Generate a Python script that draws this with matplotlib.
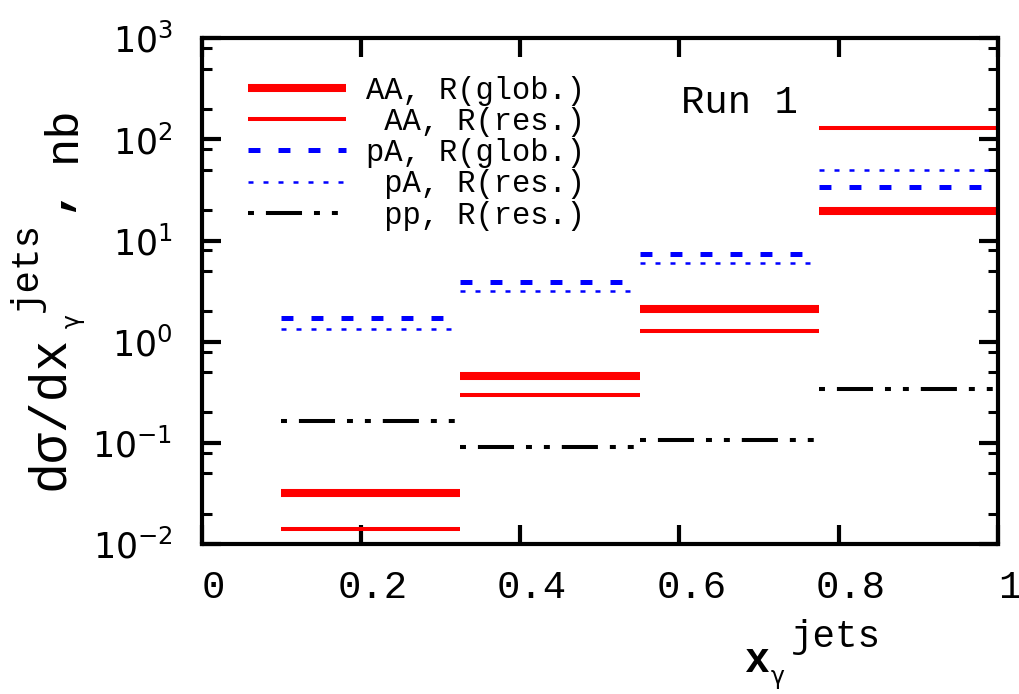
import numpy
import matplotlib as mpl
mpl.use('Agg')
import matplotlib.pyplot as plt
import matplotlib.transforms as mtrans
from matplotlib.ticker import LogLocator, NullFormatter, FixedLocator
#
#--- data (x_gamma^jets bins, cross sections in nb)
#
bin_edges  = [0.1, 0.325, 0.55, 0.775, 1.0]
aa_glob    = [0.0320, 0.461, 2.12, 19.7]
aa_res     = [0.0141, 0.299, 1.27, 130.0]
pa_glob    = [1.72, 3.90, 7.43, 33.8]
pa_res     = [1.35, 3.20, 5.97, 50.4]
pp_res     = [0.163, 0.0913, 0.1056, 0.338]

labels     = ['AA, R(glob.)', ' AA, R(res.)', 'pA, R(glob.)', ' pA, R(res.)', ' pp, R(res.)']
x_ticks    = [0, 0.2, 0.4, 0.6, 0.8, 1.0]
x_tlabels  = ['0', '0.2', '0.4', '0.6', '0.8', '1']
y_ticks    = [1e-2, 1e-1, 1e0, 1e1, 1e2, 1e3]
y_tlabels  = [r'$10^{-2}$', r'$10^{-1}$', r'$10^{0}$', r'$10^{1}$', r'$10^{2}$', r'$10^{3}$']

mono = 'Liberation Mono'
mpl.rcParams['lines.scale_dashes'] = False
mpl.rcParams['mathtext.fontset']   = 'dejavusans'

W, H = 1020, 694
fig = plt.figure(figsize=(W / 100.0, H / 100.0), dpi=100)
ax  = fig.add_axes([201.7 / W, 1 - 544.0 / H, (997.7 - 201.7) / W, (544.0 - 38.3) / H])
#
#--- line styles: (label, values, color, width, dash pattern in points)
#
styles = [
    (labels[0], aa_glob, 'red',  5.8, None),
    (labels[1], aa_res,  'red',  2.9, None),
    (labels[2], pa_glob, 'blue', 3.6, (0, (8.6, 13.0))),
    (labels[3], pa_res,  'blue', 1.8, (0, (3.6, 7.2))),
    (labels[4], pp_res,  'black', 2.9, (0, (4.3, 8.6, 26.0, 8.6, 4.3, 8.6))),
]

left  = numpy.array(bin_edges[:-1])
right = numpy.array(bin_edges[1:])

for lab, vals, col, lw, dash in styles:
    ls = 'solid' if dash is None else dash
    ax.hlines(vals, left, right, colors=col, linewidths=lw, linestyles=ls, label=lab,
              capstyle='butt')
#
#--- axes
#
ax.set_yscale('log')
ax.set_xlim(0, 1)
ax.set_ylim(1e-2, 1e3)

ax.xaxis.set_major_locator(FixedLocator(x_ticks))
ax.set_xticklabels(x_tlabels, fontfamily=mono, fontsize=28)
ax.yaxis.set_major_locator(FixedLocator(y_ticks))
ax.set_yticklabels(y_tlabels, fontsize=25)
ax.yaxis.set_minor_locator(LogLocator(base=10, subs=[2, 5, 8], numticks=20))
ax.yaxis.set_minor_formatter(NullFormatter())

for sp in ax.spines.values():
    sp.set_linewidth(3)

ax.tick_params(which='major', direction='in', length=14, width=3, top=True, right=True)
ax.tick_params(which='minor', direction='in', length=7, width=2.2, top=True, right=True)
ax.tick_params(axis='x', pad=19)
ax.tick_params(axis='y', pad=21)
#
#--- x tick labels sit a little right of their ticks in the reference
#
shift = mtrans.ScaledTranslation(0.12, 0, fig.dpi_scale_trans)
for tl in ax.get_xticklabels():
    tl.set_transform(tl.get_transform() + shift)
#
#--- legend
#
leg = ax.legend(loc='upper left', bbox_to_anchor=(0.058, 0.926), frameon=False,
                prop={'family': mono, 'size': 22}, handlelength=3.2,
                handletextpad=0.65, labelspacing=0.04, borderpad=0, borderaxespad=0)

ax.text(0.602, 0.852, 'Run 1', transform=ax.transAxes, fontfamily=mono, fontsize=28)
#
#--- axis labels built from pieces (pixel positions)
#
def px(x, y):
    return x / W, 1 - y / H

fig.text(*px(745, 672), 'x', fontfamily=mono, fontsize=30, fontweight='bold',
         ha='left', va='baseline')
fig.text(*px(771, 684), 'γ', fontfamily='DejaVu Sans', fontsize=17,
         ha='left', va='baseline')
fig.text(*px(791, 647), 'jets', fontfamily=mono, fontsize=27,
         ha='left', va='baseline')

fig.text(*px(63, 490), 'dσ/dx', fontfamily=mono, fontsize=37, rotation=90,
         rotation_mode='anchor', ha='left', va='baseline')
fig.text(*px(80, 328), 'γ', fontfamily='DejaVu Sans', fontsize=17, rotation=90,
         rotation_mode='anchor', ha='left', va='baseline')
fig.text(*px(37, 312), 'jets', fontfamily=mono, fontsize=27, rotation=90,
         rotation_mode='anchor', ha='left', va='baseline')
fig.text(*px(63, 212), ',', fontfamily=mono, fontsize=34, fontweight='bold', rotation=90,
         rotation_mode='anchor', ha='left', va='baseline')
fig.text(*px(75, 162), 'nb', fontfamily=mono, fontsize=34, rotation=90,
         rotation_mode='anchor', ha='left', va='baseline')

fig.savefig('out.png', dpi=100)
